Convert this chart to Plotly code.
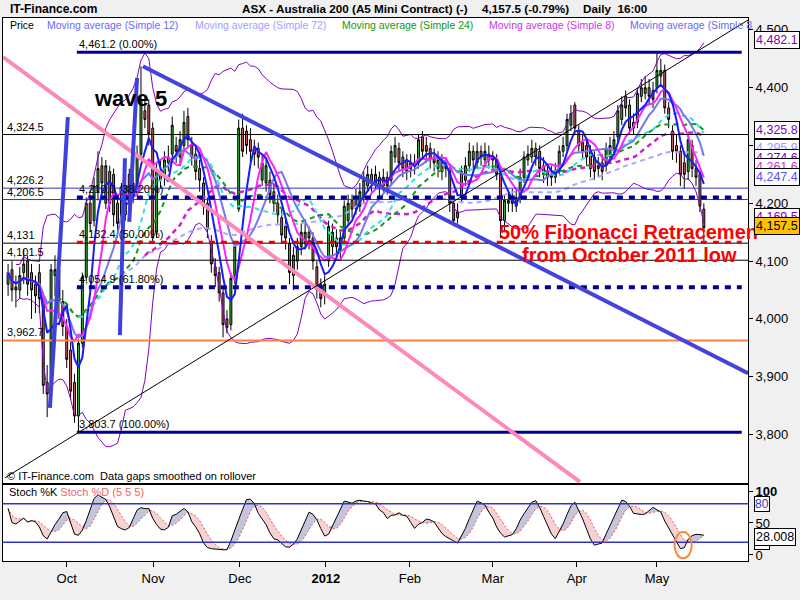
import numpy as np
import pandas as pd
import plotly.graph_objects as go

# ---------------- data ----------------
opens = [4060,4085,4050,4050,4080,4100,4080,4060,4080,4035,
         3890,3880,4075,4085,4030,3987,3946,3890,3832,3958,
         4072,4200,4170,4220,4265,4200,4255,4250,4200,4170,
         4180,4250,4215,4220,4285,4360,4370,4330,4150,4255,
         4245,4270,4285,4300,4280,4300,4350,4300,4285,4260,
         4235,4200,4130,4090,4080,4045,4000,3990,4075,4190,
         4330,4325,4310,4295,4295,4240,4235,4240,4220,4200,
         4175,4160,4130,4075,4100,4125,4130,4150,4140,4090,
         4060,4040,4100,4125,4140,4120,4140,4170,4205,4190,
         4195,4210,4230,4250,4235,4245,4230,4245,4240,4280,
         4295,4280,4275,4260,4270,4270,4315,4300,4295,4280,
         4260,4275,4270,4260,4200,4175,4210,4240,4265,4290,
         4270,4290,4275,4285,4280,4275,4250,4170,4200,4210,
         4195,4210,4245,4275,4280,4295,4290,4265,4255,4250,
         4245,4260,4290,4300,4335,4370,4325,4305,4300,4290,
         4280,4260,4270,4265,4280,4295,4315,4345,4385,4370,
         4340,4340,4385,4390,4400,4395,4400,4420,4430,4365,
         4325,4300,4290,4270,4255,4300,4260,4250,4190]
highs = [4095,4100,4075,4090,4120,4110,4095,4075,4095,4045,
         3920,4095,4110,4095,4050,4000,3960,3905,3965,4080,
         4210,4215,4245,4290,4280,4275,4265,4260,4215,4235,
         4245,4260,4250,4300,4437,4385,4380,4340,4270,4275,
         4290,4300,4350,4315,4325,4360,4365,4315,4300,4275,
         4245,4210,4145,4105,4090,4055,4015,4080,4135,4345,
         4355,4335,4330,4310,4305,4285,4280,4255,4235,4215,
         4190,4175,4140,4125,4140,4165,4165,4160,4150,4100,
         4070,4075,4170,4165,4155,4155,4205,4215,4215,4225,
         4235,4255,4265,4260,4265,4255,4260,4255,4300,4315,
         4305,4290,4285,4285,4285,4320,4325,4315,4305,4295,
         4290,4285,4280,4265,4210,4200,4265,4280,4305,4300,
         4305,4300,4305,4300,4290,4285,4255,4215,4220,4225,
         4225,4260,4290,4300,4310,4305,4300,4280,4265,4265,
         4270,4300,4315,4355,4370,4375,4335,4320,4310,4300,
         4290,4280,4285,4305,4315,4325,4370,4385,4395,4380,
         4355,4400,4415,4420,4415,4410,4461.2,4450,4440,4375,
         4335,4320,4300,4285,4320,4310,4275,4255,4200]
lows = [4040,4030,4020,4035,4060,4040,4000,4010,4010,3870,
        3830,3870,4040,4000,3970,3915,3860,3820,3804,3950,
        4065,4150,4160,4205,4215,4190,4185,4160,4140,4150,
        4170,4180,4200,4215,4275,4330,4300,4130,4140,4225,
        4230,4255,4270,4270,4265,4290,4295,4265,4240,4220,
        4180,4140,4080,4055,4030,3968,3975,3980,4060,4185,
        4280,4285,4270,4265,4260,4230,4220,4200,4185,4165,
        4130,4120,4060,4050,4085,4110,4120,4120,4085,4035,
        4020,4025,4090,4110,4110,4105,4130,4160,4175,4180,
        4185,4200,4220,4220,4225,4210,4220,4215,4230,4270,
        4255,4245,4240,4245,4250,4260,4275,4270,4260,4255,
        4245,4240,4245,4185,4160,4165,4200,4230,4255,4260,
        4260,4265,4265,4260,4260,4240,4140,4150,4185,4185,
        4185,4200,4235,4265,4270,4265,4245,4235,4230,4230,
        4235,4250,4280,4290,4325,4320,4290,4275,4265,4245,
        4240,4245,4240,4255,4270,4285,4305,4335,4350,4320,
        4320,4330,4375,4380,4370,4365,4390,4405,4355,4330,
        4275,4270,4230,4225,4240,4245,4230,4185,4135]
closes = [4080,4050,4055,4075,4095,4060,4050,4040,4035,3885,
          3870,4085,4085,4030,3987,3930,3875,3832,3958,4072,
          4200,4165,4230,4260,4235,4265,4200,4180,4165,4220,
          4230,4200,4235,4285,4380,4345,4320,4140,4255,4240,
          4275,4280,4335,4290,4310,4340,4310,4280,4255,4240,
          4195,4155,4095,4075,4045,3990,3985,4070,4125,4330,
          4290,4300,4290,4285,4280,4270,4265,4215,4200,4180,
          4145,4140,4080,4110,4125,4150,4150,4140,4100,4050,
          4035,4060,4160,4150,4125,4140,4195,4200,4190,4210,
          4220,4240,4250,4235,4250,4225,4245,4230,4290,4300,
          4270,4260,4255,4270,4265,4310,4290,4290,4275,4270,
          4275,4255,4260,4200,4170,4185,4255,4265,4290,4275,
          4290,4280,4290,4275,4275,4250,4170,4205,4205,4200,
          4210,4245,4280,4285,4295,4280,4260,4250,4245,4245,
          4255,4290,4300,4345,4355,4330,4300,4290,4280,4260,
          4255,4265,4255,4295,4300,4310,4360,4370,4365,4330,
          4330,4390,4400,4400,4385,4380,4430,4430,4365,4345,
          4290,4290,4250,4250,4310,4260,4245,4195,4157.5]

tick_positions = [15, 37.1, 59.3, 81.3, 102.8, 124, 145.5, 166]
tick_labels = ['Oct', 'Nov', 'Dec', '<b>2012</b>', 'Feb', 'Mar', 'Apr', 'May']

price_ticks = [3800, 3900, 4000, 4100, 4200, 4300, 4400, 4500]

fib_high = 4461.2
fib_low = 3803.7
fib_ratios = [0.0, 0.382, 0.5, 0.618, 1.0]
fib_span = [17.6, 187.7]

level_values = [4319, 4226.2, 4206.5, 4131, 4101.5, 3962.7]
level_labels = ['4,324.5', '4,226.2', '4,206.5', '4,131', '4,101.5', '3,962.7']

pink_line = [(-1.3, 4453), (146.3, 3718)]
blue_trend = [(34.5, 4437), (189.3, 3906)]
support_line = [(-0.8, 3725), (189.3, 4517)]
wave_lines = [[(15.3, 4349), (10.7, 3846)],
              [(33.0, 4417), (31.0, 4168)],
              [(29.9, 4278), (28.6, 3972)]]

value_labels = ['4,482.1', '4,325.8', '4,295.9', '4,274.6', '4,261.6', '4,247.4', '4,169.5', '4,157.5']
value_label_pos = [4482.1, 4327, 4296, 4278, 4262, 4245, 4176, 4160]
value_label_colors = ['#8000c0', '#8000c0', '#9c9cff', '#8000c0', '#cc33cc', '#5050ff', '#8000c0', 'black']

# ---------------- indicators ----------------
idx = list(range(len(closes)))
s = pd.Series(closes, dtype=float)
def sma(n, mp=1):
    return s.rolling(n, min_periods=mp).mean()
ma5 = sma(5)
ma8 = sma(8)
ma12 = sma(12)
ma19 = sma(19, 19)
ma24 = sma(24)
ma36 = sma(36, 36)
ma72 = sma(72)
bb_mid = s.rolling(20, min_periods=3).mean()
bb_std = s.rolling(20, min_periods=3).std()
bb_up = bb_mid + 2 * bb_std
bb_dn = bb_mid - 2 * bb_std

hh = pd.Series(highs, dtype=float).rolling(5, min_periods=1).max()
ll = pd.Series(lows, dtype=float).rolling(5, min_periods=1).min()
fastk = 100 * (s - ll) / (hh - ll)
K = fastk.rolling(5, min_periods=1).mean()
D = K.rolling(5, min_periods=1).mean()
upper = np.maximum(K, D)
lower = np.minimum(K, D)

FONT = 'Liberation Sans, Arial, sans-serif'
fig = go.Figure()

# bands
for b in (bb_up, bb_dn):
    fig.add_trace(go.Scatter(x=idx, y=b, mode='lines', line=dict(color='#8000c0', width=1),
                             hoverinfo='skip', showlegend=False))

fig.add_trace(go.Candlestick(x=idx, open=opens, high=highs, low=lows, close=closes,
                             increasing=dict(line=dict(color='black', width=1), fillcolor='#33bb33'),
                             decreasing=dict(line=dict(color='black', width=1), fillcolor='#dd6060'),
                             whiskerwidth=0, showlegend=False))

ma_specs = [
    (ma72, '#a8a8ff', 2, '5px,4px'),
    (ma36, '#cc22cc', 2.5, '5px,4px'),
    (ma24, '#119911', 2, '5px,4px'),
    (ma19, '#33e0e0', 2, '5px,4px'),
    (ma12, '#7878ee', 2, 'solid'),
    (ma8, '#ff22ff', 2, 'solid'),
    (ma5, '#1a1aff', 2, 'solid'),
]
for ser, col, w, dash in ma_specs:
    fig.add_trace(go.Scatter(x=idx, y=ser, mode='lines', line=dict(color=col, width=w, dash=dash),
                             hoverinfo='skip', showlegend=False))

# stochastic fills
fig.add_trace(go.Scatter(x=idx, y=D, xaxis='x2', yaxis='y2', mode='lines', line=dict(width=0),
                         showlegend=False, hoverinfo='skip'))
fig.add_trace(go.Scatter(x=idx, y=upper, xaxis='x2', yaxis='y2', mode='lines', line=dict(width=0),
                         fill='tonexty', fillcolor='#c4c4dc', showlegend=False, hoverinfo='skip'))
fig.add_trace(go.Scatter(x=idx, y=D, xaxis='x2', yaxis='y2', mode='lines', line=dict(width=0),
                         showlegend=False, hoverinfo='skip'))
fig.add_trace(go.Scatter(x=idx, y=lower, xaxis='x2', yaxis='y2', mode='lines', line=dict(width=0),
                         fill='tonexty', fillcolor='#f6d2d2', showlegend=False, hoverinfo='skip'))
fig.add_trace(go.Scatter(x=idx, y=D, xaxis='x2', yaxis='y2', mode='lines',
                         line=dict(color='#ee5555', width=1, dash='2px,2px'), showlegend=False, hoverinfo='skip'))
fig.add_trace(go.Scatter(x=idx, y=K, xaxis='x2', yaxis='y2', mode='lines',
                         line=dict(color='black', width=1), showlegend=False, hoverinfo='skip'))

shapes = []
# horizontal levels
level_colors = ['black', '#3333cc', '#3333cc', 'black', 'black', '#ff8040']
level_widths = [1, 1, 1, 1, 1, 2]
for v, c, w in zip(level_values, level_colors, level_widths):
    shapes.append(dict(type='line', xref='paper', yref='y', x0=0, x1=1, y0=v, y1=v,
                       line=dict(color=c, width=w), layer='above'))
# fib lines
fib_styles = [('#000099', 3, 'solid'), ('#000099', 4, '6px,6px'), ('#ee0000', 3, '6px,6px'),
              ('#000099', 4, '6px,6px'), ('#000099', 3, 'solid')]
fib_values = [fib_high - r * (fib_high - fib_low) for r in fib_ratios]
for v, (c, w, d) in zip(fib_values, fib_styles):
    shapes.append(dict(type='line', xref='x', yref='y', x0=fib_span[0], x1=fib_span[1], y0=v, y1=v,
                       line=dict(color=c, width=w, dash=d), layer='above'))
# trend lines
for (p0, p1), col, w in [(pink_line, '#ff88bb', 4), (blue_trend, '#4444dd', 4), (support_line, 'black', 1)]:
    shapes.append(dict(type='line', xref='x', yref='y', x0=p0[0], y0=p0[1], x1=p1[0], y1=p1[1],
                       line=dict(color=col, width=w), layer='above'))
for p0, p1 in wave_lines:
    shapes.append(dict(type='line', xref='x', yref='y', x0=p0[0], y0=p0[1], x1=p1[0], y1=p1[1],
                       line=dict(color='#4040dd', width=4), layer='above'))
# stoch lines
for v in (80, 20):
    shapes.append(dict(type='line', xref='paper', yref='y2', x0=0, x1=1, y0=v, y1=v,
                       line=dict(color='#3333cc', width=1.5), layer='above'))
shapes.append(dict(type='circle', xref='x2', yref='y2', x0=170.5, x1=174.9, y0=-5, y1=36,
                   line=dict(color='#ff8833', width=2), layer='above'))

H = 543.0
def py(p):
    return (561 - p) / H
def px(p):
    return (p - 3) / 745.0

ann = []
def text(x, y, t, size=11, color='black', xref='paper', yref='paper', bold=False, xanchor='left', yanchor='middle', **kw):
    if bold:
        t = '<b>' + t + '</b>'
    d = dict(x=x, y=y, xref=xref, yref=yref, text=t, showarrow=False, xanchor=xanchor, yanchor=yanchor,
             font=dict(family=FONT, size=size, color=color))
    d.update(kw)
    ann.append(d)

# header
text(px(8), py(9), 'IT-Finance.com', size=12, bold=True)
text(px(240), py(9), 'ASX - Australia 200 (A5 Mini Contract) (-)', size=11.7, bold=True)
text(px(480), py(9), '4,157.5 (-0.79%)', size=11.7, bold=True)
text(px(581), py(9), 'Daily  16:00', size=11.7, bold=True)
# legend row
legend_items = [('Price', 'black', 8), ('Moving average (Simple 12)', '#6a6aff', 45),
                ('Moving average (Simple 72)', '#a0a0ff', 193), ('Moving average (Simple 24)', '#119911', 340),
                ('Moving average (Simple 8)', '#cc33ee', 487), ('Moving average (Simple 8', '#6a6aee', 628)]
for t, c, x in legend_items:
    text(px(x), py(25), t, size=10.5, color=c)
text(px(5), py(476), '© IT-Finance.com  Data gaps smoothed on rollover', size=11)
text(px(7), py(492), 'Stoch %K <span style="color:#ee6666">Stoch %D (5 5 5)</span>', size=11)

# level labels
for v, t in zip(level_values, level_labels):
    text(-0.8, v, t, size=11, xref='x', yref='y', yanchor='bottom')
fib_pct = ['0.00%', '38.20%', '50.00%', '61.80%', '100.00%']
for v, p in zip(fib_values, fib_pct):
    text(fib_span[0], v, '{:,.1f} ({})'.format(v, p), size=11, xref='x', yref='y', yanchor='bottom')

text(21.5, 4382, 'wave 5', size=22, bold=True, xref='x', yref='y')
text(125.1, 4150, '50% Fibonacci Retracemen', size=20, bold=True, color='#ff0000', xref='x', yref='y')
text(130.9, 4111, 'from October 2011 low', size=20, bold=True, color='#ff0000', xref='x', yref='y')

for t, pos, c in zip(value_labels, value_label_pos, value_label_colors):
    bg = '#ffc000' if t == '4,157.5' else 'white'
    text(px(754), pos, t, size=12.5, color=c, yref='y', bgcolor=bg, bordercolor='black', borderwidth=1, borderpad=1)

text(px(754), 80, '80', size=12, color='#3333cc', yref='y2', bgcolor='white', bordercolor='black', borderwidth=1, borderpad=0)
text(px(754), 20, '20', size=12, color='#3333cc', yref='y2', bgcolor='white', bordercolor='black', borderwidth=1, borderpad=0)
text(px(754), 28, '28.008', size=12.5, color='black', yref='y2', bgcolor='white', bordercolor='black', borderwidth=1, borderpad=1)

fig.update_layout(
    width=800, height=600,
    margin=dict(l=3, r=52, t=18, b=39),
    paper_bgcolor='#f0f0f0', plot_bgcolor='white',
    showlegend=False,
    font=dict(family=FONT, size=12, color='black'),
    xaxis=dict(domain=[0, 1], anchor='y', range=[-1.3, 189.3], showticklabels=False, ticks='',
               showgrid=False, zeroline=False, showline=True, mirror=True, linecolor='black', linewidth=1,
               rangeslider=dict(visible=False), tickvals=tick_positions),
    yaxis=dict(domain=[0.1436, 1], anchor='x', range=[3716, 4520.6], side='right', tickvals=price_ticks,
               tickformat=',', ticks='outside', ticklen=4, tickcolor='black', showgrid=False, zeroline=False,
               showline=True, mirror=True, linecolor='black', linewidth=1,
               tickfont=dict(family=FONT, size=13)),
    xaxis2=dict(domain=[0, 1], anchor='y2', matches='x', range=[-1.3, 189.3], tickvals=tick_positions,
                ticktext=tick_labels, ticks='outside', ticklen=5, tickcolor='black', showgrid=False,
                zeroline=False, showline=True, mirror=True, linecolor='black', linewidth=1,
                tickfont=dict(family=FONT, size=13)),
    yaxis2=dict(domain=[0, 0.140], anchor='x2', range=[-9.4, 109.4], side='right', tickvals=[0, 50, 100],
                ticktext=['0', '50', '<b>100</b>'], ticks='outside', ticklen=4, tickcolor='black',
                showgrid=False, zeroline=False, showline=True, mirror=True, linecolor='black', linewidth=1,
                tickfont=dict(family=FONT, size=13)),
    shapes=shapes,
    annotations=ann,
)

fig.write_html('out.html', config={'displayModeBar': False},
               post_script="document.body.style.margin='0px';")
